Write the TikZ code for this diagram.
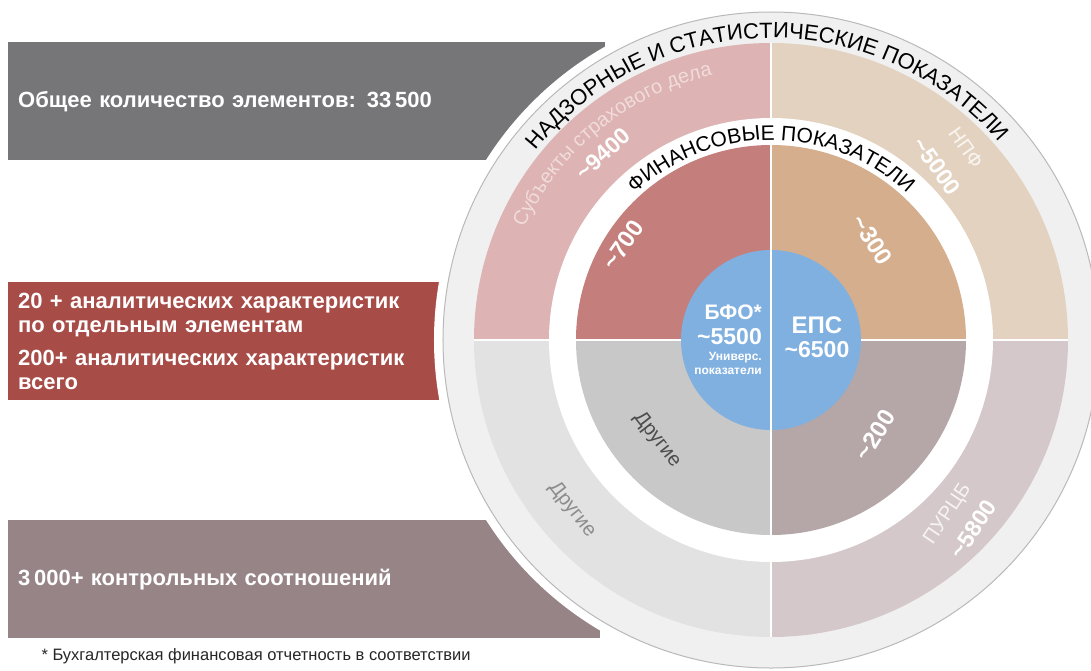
\documentclass[tikz,border=0pt]{standalone}
\usepackage{fontspec}
\setmainfont{Liberation Sans}
\usetikzlibrary{positioning,decorations.text}
\definecolor{totalgray}{HTML}{767578}
\definecolor{brick}{HTML}{A84C48}
\definecolor{mauvebox}{HTML}{978487}
\definecolor{diskgray}{HTML}{F0F0F0}
\definecolor{diskline}{HTML}{B9B9B9}
\definecolor{insout}{HTML}{DDB3B3}
\definecolor{insfaint}{HTML}{F1DCDC}
\definecolor{npfout}{HTML}{E3D2BF}
\definecolor{othout}{HTML}{E2E2E2}
\definecolor{purout}{HTML}{D4C8CB}
\definecolor{insin}{HTML}{C47F7C}
\definecolor{npfin}{HTML}{D4AE8D}
\definecolor{othin}{HTML}{C8C8C8}
\definecolor{purin}{HTML}{B5A6A8}
\definecolor{bfoblue}{HTML}{80B0E0}
\begin{document}
\begin{tikzpicture}[x=1pt,y=1pt,
  leftbox/.style={fill=#1,text=white,font=\bfseries\fontsize{22}{24}\selectfont,
    anchor=north west,align=left,inner xsep=10pt,inner ysep=0pt},
  lbl/.style={text=white,font=\bfseries\fontsize{24}{24}\selectfont,align=center},
  num/.style={text=white,font=\bfseries\fontsize{23}{23}\selectfont,inner sep=0pt},
  soft/.style={text=#1,font=\fontsize{20}{22}\selectfont,inner sep=0pt},
  bluetxt/.style={text=white,font=\bfseries\fontsize{#1}{#1}\selectfont,inner sep=0pt}]
\useasboundingbox (-771,-330) rectangle (320,340);
\clip (-771,-330) rectangle (320,340);

\node[leftbox=totalgray,minimum height=118pt,text width=577pt] (total) at (-763,298)
  {Общее количество элементов: 33\,500};
\node[leftbox=brick,minimum height=118pt,text width=414pt] (analyt) at (-763,58)
  {20 + аналитических характеристик\\по отдельным элементам\\[9pt]
   200+ аналитических характеристик\\всего};
\node[leftbox=mauvebox,minimum height=118pt,text width=572pt] (ctrl) at (-763,-180)
  {3\,000+ контрольных соотношений};
\node[anchor=west,font=\fontsize{16.5}{16.5}\selectfont,text=black!85] (note) at (-733,-316)
  {* Бухгалтерская финансовая отчетность в соответствии};

\fill[white] (0,0) circle[radius=337pt];
\draw[diskline,fill=diskgray,line width=1pt] (0,0) circle[radius=328pt];

\fill[npfout] (0,0) -- (0:297pt) arc[start angle=0,end angle=90,radius=297pt] -- cycle;
\fill[insout] (0,0) -- (90:297pt) arc[start angle=90,end angle=180,radius=297pt] -- cycle;
\fill[othout] (0,0) -- (180:297pt) arc[start angle=180,end angle=270,radius=297pt] -- cycle;
\fill[purout] (0,0) -- (270:297pt) arc[start angle=270,end angle=360,radius=297pt] -- cycle;
\fill[white] (0,0) circle[radius=222pt];
\fill[npfin] (0,0) -- (0:195pt) arc[start angle=0,end angle=90,radius=195pt] -- cycle;
\fill[insin] (0,0) -- (90:195pt) arc[start angle=90,end angle=180,radius=195pt] -- cycle;
\fill[othin] (0,0) -- (180:195pt) arc[start angle=180,end angle=270,radius=195pt] -- cycle;
\fill[purin] (0,0) -- (270:195pt) arc[start angle=270,end angle=360,radius=195pt] -- cycle;
\draw[white,line width=2.5pt] (180:297pt) -- (0:297pt);
\fill[bfoblue] (0,0) circle[radius=90pt];
\draw[white,line width=2pt] (90:297pt) -- (270:297pt);

\path[decorate,decoration={text along path,text align=center,
  text={|\fontsize{22}{22}\selectfont|НАДЗОРНЫЕ И СТАТИСТИЧЕСКИЕ ПОКАЗАТЕЛИ}}]
  (145:302pt) arc[start angle=145,end angle=37,radius=302pt];
\path[decorate,decoration={text along path,text align=center,
  text={|\fontsize{21}{21}\selectfont|ФИНАНСОВЫЕ ПОКАЗАТЕЛИ}}]
  (138:200pt) arc[start angle=138,end angle=42,radius=200pt];
\path[decorate,decoration={text along path,text align=center,
  text={|\fontsize{20}{20}\selectfont\color{insfaint}|Субъекты страхового дела}}]
  (159:271pt) arc[start angle=159,end angle=99,radius=271pt];

\node[num,rotate=42] (ins) at (-168,186) {\textasciitilde 9400};
\node[soft=white!80!npfout,rotate=-55] (npf) at (195,192) {НПФ};
\node[num,rotate=-55] (npf n) at (166,174) {\textasciitilde 5000};
\node[soft=black!45,rotate=-52] (otho) at (-199,-170) {Другие};
\node[soft=white!80!purout,rotate=56] (pur) at (177,-174) {ПУРЦБ};
\node[num,rotate=56] (pur n) at (202,-189) {\textasciitilde 5800};

\node[lbl,rotate=55] (ins in) at (-148,95) {\textasciitilde 700};
\node[lbl,rotate=-58] (npf in) at (101,100) {\textasciitilde 300};
\node[soft=black!70,rotate=-52] (oth in) at (-114,-100) {Другие};
\node[lbl,rotate=58] (pur in) at (104,-95) {\textasciitilde 200};

\node[bluetxt=21,anchor=east] (bfo) at (-9,28) {БФО*};
\node[bluetxt=23,anchor=east] (bfo n) at (-9,3) {\textasciitilde 5500};
\node[bluetxt=12,anchor=east] (univ) at (-9,-18) {Универс.};
\node[bluetxt=12,anchor=east] (pok) at (-9,-31) {показатели};
\node[bluetxt=24] (eps) at (46,15) {ЕПС};
\node[bluetxt=23] (eps n) at (46,-10) {\textasciitilde 6500};
\end{tikzpicture}
\end{document}
